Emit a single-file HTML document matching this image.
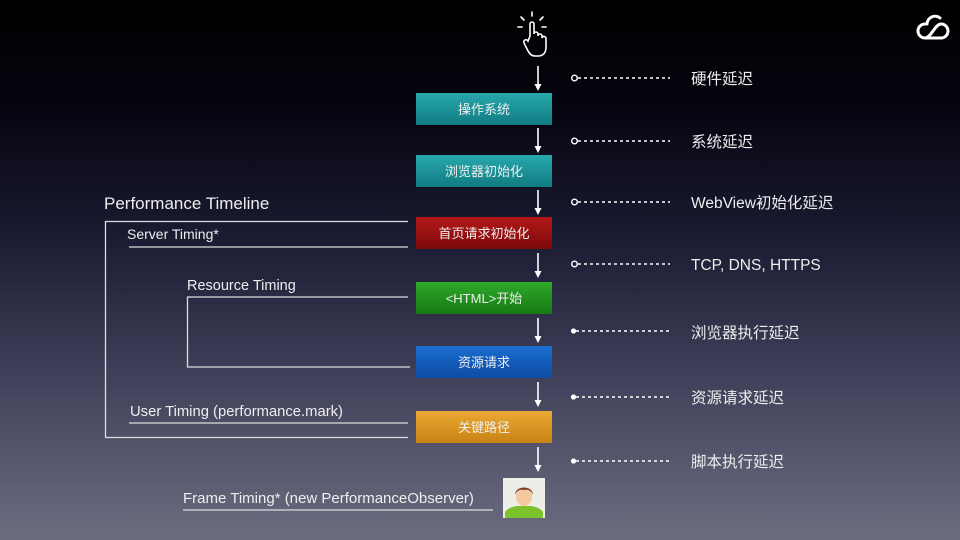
<!DOCTYPE html>
<html><head><meta charset="utf-8"><style>
html,body{margin:0;padding:0;width:960px;height:540px;overflow:hidden}
body{background:linear-gradient(to bottom,#000 0%,#050510 20%,#1c1c34 45%,#40405a 70%,#6c6c80 100%)}
svg{display:block}
text{font-family:"Liberation Sans","Noto Sans CJK SC",sans-serif;fill:#eee}
</style></head><body>
<svg width="960" height="540" viewBox="0 0 960 540">
<defs>
<linearGradient id="teal" x1="0" y1="0" x2="0" y2="1"><stop offset="0" stop-color="#27a8ac"/><stop offset="1" stop-color="#117c82"/></linearGradient>
<linearGradient id="red" x1="0" y1="0" x2="0" y2="1"><stop offset="0" stop-color="#b41818"/><stop offset="1" stop-color="#7c0a0a"/></linearGradient>
<linearGradient id="green" x1="0" y1="0" x2="0" y2="1"><stop offset="0" stop-color="#2ea82a"/><stop offset="1" stop-color="#177a14"/></linearGradient>
<linearGradient id="blue" x1="0" y1="0" x2="0" y2="1"><stop offset="0" stop-color="#1a6ed0"/><stop offset="1" stop-color="#0c4ba4"/></linearGradient>
<linearGradient id="orange" x1="0" y1="0" x2="0" y2="1"><stop offset="0" stop-color="#eba834"/><stop offset="1" stop-color="#c88414"/></linearGradient>
</defs>

<!-- cloud logo -->
<g fill="none" stroke="#fff" stroke-width="3" stroke-linecap="round">
<path d="M925,38 a7,7 0 0 1 0,-14 M925,38 h16 a7,7 0 0 0 0,-14 c-6,0 -10,14 -16,14 M927,24 a8,8 0 0 1 13,-6"/>
</g>

<!-- hand icon -->
<g stroke="#fff" stroke-width="1.6" fill="none" stroke-linecap="round">
<path d="M530,36 v-12 a2,2 0 0 1 4,0 v10 a2,2 0 0 1 4,0 v2 a2,2 0 0 1 4,0 v2 a2,2 0 0 1 4,1 v8 c0,6 -3,9 -8,9 h-3 c-4,0 -6,-3 -8,-7 l-3,-6 a2,2 0 0 1 4,-2 z"/>
<path d="M532,16 v-4 M524,20 l-3,-3 M540,20 l3,-3 M522,27 h-4 M542,27 h4"/>
</g>

<!-- arrows -->
<g stroke="#fff" stroke-width="1.6">
<line x1="538" y1="66" x2="538" y2="84"/><line x1="538" y1="128" x2="538" y2="146"/><line x1="538" y1="190" x2="538" y2="208"/><line x1="538" y1="253" x2="538" y2="271"/><line x1="538" y1="318" x2="538" y2="336"/><line x1="538" y1="382" x2="538" y2="400"/><line x1="538" y1="447" x2="538" y2="465"/>
</g>
<g fill="#fff">
<path d="M534.5,84 h7 l-3.5,7z"/><path d="M534.5,146 h7 l-3.5,7z"/><path d="M534.5,208 h7 l-3.5,7z"/><path d="M534.5,271 h7 l-3.5,7z"/><path d="M534.5,336 h7 l-3.5,7z"/><path d="M534.5,400 h7 l-3.5,7z"/><path d="M534.5,465 h7 l-3.5,7z"/>
</g>

<!-- boxes -->
<rect x="416" y="93" width="136" height="32" fill="url(#teal)"/>
<rect x="416" y="155" width="136" height="32" fill="url(#teal)"/>
<rect x="416" y="217" width="136" height="32" fill="url(#red)"/>
<rect x="416" y="282" width="136" height="32" fill="url(#green)"/>
<rect x="416" y="346" width="136" height="32" fill="url(#blue)"/>
<rect x="416" y="411" width="136" height="32" fill="url(#orange)"/>
<g font-size="13" text-anchor="middle">
<text x="484" y="114">操作系统</text>
<text x="484" y="176">浏览器初始化</text>
<text x="484" y="238">首页请求初始化</text>
<text x="484" y="303">&lt;HTML&gt;开始</text>
<text x="484" y="367">资源请求</text>
<text x="484" y="432">关键路径</text>
</g>

<!-- avatar -->
<rect x="503" y="478" width="42" height="40" fill="#eeeee8"/>
<path d="M505,518 v-6 c4,-5 10,-6 14,-6 h10 c4,0 10,1 14,6 v6z" fill="#7cc22c"/>
<ellipse cx="524" cy="497" rx="8" ry="9" fill="#f4c9a0"/>
<path d="M515,495 c0,-10 18,-10 18,0 c-2,-5 -6,-6 -9,-5 c-3,-1 -7,0 -9,5z" fill="#7a3a28"/>

<!-- dotted latency lines -->
<g stroke="#fff" stroke-width="1.4" stroke-dasharray="3,3">
<line x1="578" y1="78" x2="670" y2="78"/><line x1="578" y1="141" x2="670" y2="141"/><line x1="578" y1="202" x2="670" y2="202"/><line x1="578" y1="264" x2="670" y2="264"/><line x1="576" y1="331" x2="670" y2="331"/><line x1="576" y1="397" x2="670" y2="397"/><line x1="576" y1="461" x2="670" y2="461"/>
</g>
<g stroke="#fff" stroke-width="1.4" fill="none">
<circle cx="574.5" cy="78" r="2.8"/><circle cx="574.5" cy="141" r="2.8"/><circle cx="574.5" cy="202" r="2.8"/><circle cx="574.5" cy="264" r="2.8"/>
</g>
<g fill="#fff"><circle cx="573.5" cy="331" r="2.6"/><circle cx="573.5" cy="397" r="2.6"/><circle cx="573.5" cy="461" r="2.6"/></g>
<g font-size="15.5">
<text x="691" y="84">硬件延迟</text>
<text x="691" y="147">系统延迟</text>
<text x="691" y="208">WebView初始化延迟</text>
<text x="691" y="270">TCP, DNS, HTTPS</text>
<text x="691" y="338">浏览器执行延迟</text>
<text x="691" y="403">资源请求延迟</text>
<text x="691" y="467">脚本执行延迟</text>
</g>

<!-- performance timeline -->
<text x="104" y="209" font-size="17">Performance Timeline</text>
<g stroke="#ddd" stroke-width="1.3" fill="none">
<path d="M408,221.5 H105.5 V437.5 H408"/>
<line x1="129" y1="247" x2="408" y2="247"/>
<path d="M408,297 H187.5 V367 H410"/>
<line x1="129" y1="423" x2="408" y2="423"/>
<line x1="183" y1="510" x2="493" y2="510"/>
</g>
<text x="127" y="239" font-size="14">Server Timing*</text>
<text x="187" y="290" font-size="14.5">Resource Timing</text>
<text x="130" y="416" font-size="14.8">User Timing (performance.mark)</text>
<text x="183" y="503" font-size="15">Frame Timing* (new PerformanceObserver)</text>
</svg>
</body></html>
